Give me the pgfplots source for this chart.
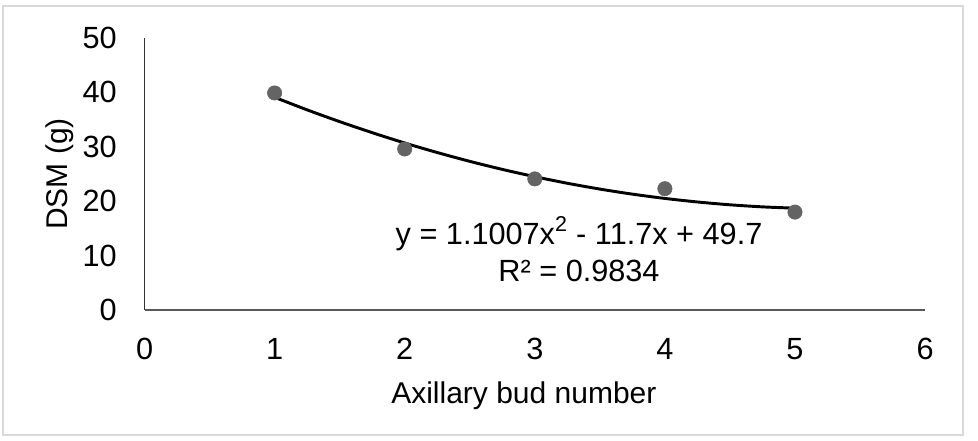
\documentclass[border=0pt]{standalone}
\usepackage{fontspec}
\setmainfont{Liberation Sans}
\usepackage{pgfplots}
\pgfplotsset{compat=1.18}
\definecolor{markgray}{HTML}{646464}
\definecolor{framegray}{HTML}{D9D9D9}
\definecolor{xaxisgray}{HTML}{595959}

% measured sample points
\pgfplotstableread{
x y
1 39.9
2 29.6
3 24.1
4 22.3
5 18.0
}\budpoints

% trendline
\pgfplotstableread{
x y
1.00 39.10
1.25 36.79
1.50 34.63
1.75 32.60
2.00 30.70
2.25 28.95
2.50 27.33
2.75 25.85
3.00 24.51
3.25 23.30
3.50 22.23
3.75 21.30
4.00 20.51
4.25 19.86
4.50 19.34
4.75 18.96
5.00 18.72
}\budtrend

\begin{document}
\begin{tikzpicture}
\useasboundingbox (-108.4pt,-97.5pt) rectangle (625.1pt,232.5pt);
\draw[framegray, line width=0.9pt] (-106.1pt,-93.75pt) rectangle (613.9pt,228pt);
\begin{axis}[
  at={(0pt,0pt)}, anchor=south west,
  scale only axis,
  width=585.4pt, height=204pt,
  xmin=0, xmax=6, ymin=0, ymax=50,
  xtick={0,1,...,6}, ytick={0,10,...,50},
  axis x line*=bottom, axis y line*=left,
  x axis line style={-, draw=xaxisgray, line width=1.1pt},
  y axis line style={-, draw=black!80, line width=0.75pt},
  major tick length=0pt,
  tick label style={font=\fontsize{23}{27}\selectfont},
  label style={font=\fontsize{22.5}{27}\selectfont},
  /pgf/number format/assume math mode=true,
  xticklabel style={anchor=base, inner sep=0pt, yshift=-36.75pt},
  yticklabel style={anchor=east, inner sep=0pt, xshift=-20.6pt},
  xlabel={Axillary bud number},
  ylabel={DSM (g)},
  xlabel style={at={(axis description cs:0.486,-0.3419)}, anchor=base, inner sep=0pt},
  ylabel style={at={(axis description cs:-0.0993,0.5)}, anchor=base, inner sep=0pt},
  clip=false,
]
\addplot[only marks, mark=*, mark size=5.4pt, mark options={fill=markgray, draw=markgray}] table[x=x, y=y] {\budpoints};
\addplot[black, line width=2.2pt, smooth] table[x=x, y=y] {\budtrend};
\node[anchor=base, inner sep=0pt, font=\fontsize{23}{27}\selectfont] at (axis cs:3.34,12.13) {y = 1.1007x\textsuperscript{2} - 11.7x + 49.7};
\node[anchor=base, inner sep=0pt, font=\fontsize{23}{27}\selectfont] at (axis cs:3.34,5.15) {R² = 0.9834};
\end{axis}
\end{tikzpicture}
\end{document}
